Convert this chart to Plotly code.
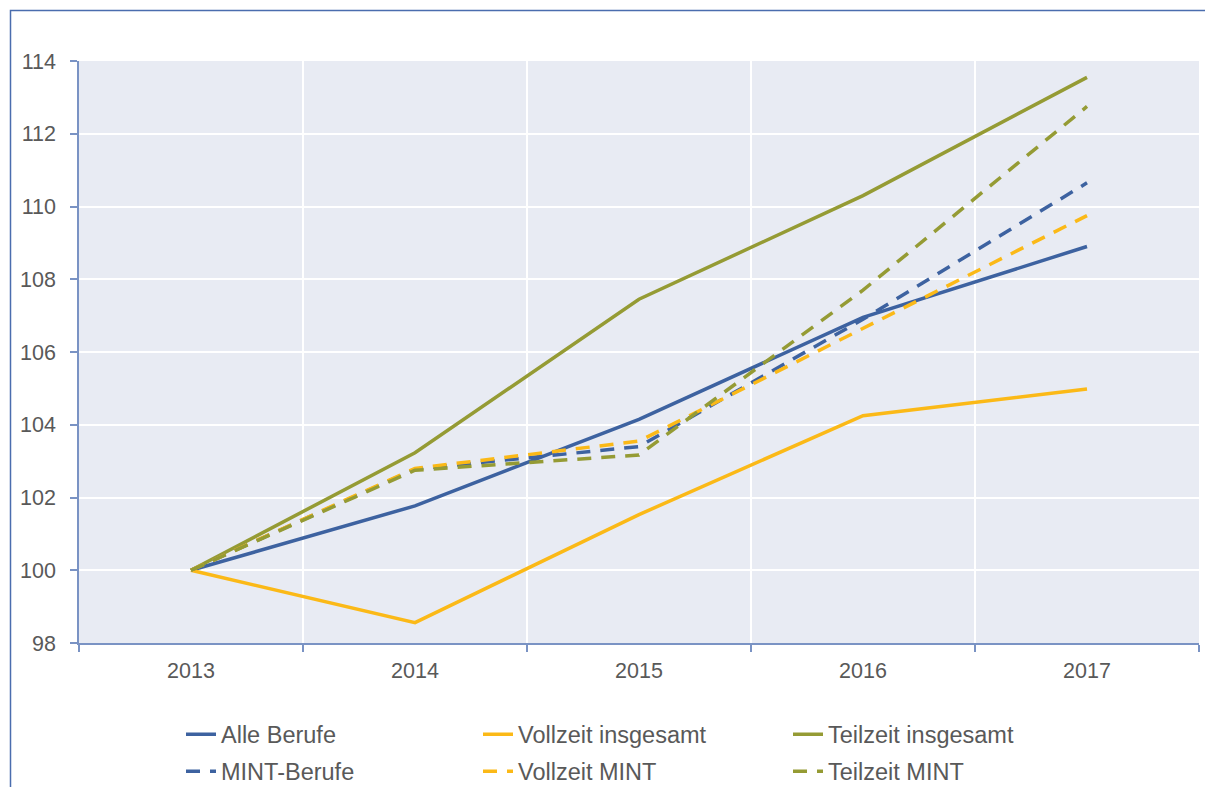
import plotly.graph_objects as go

years = ["2013", "2014", "2015", "2016", "2017"]
alle_berufe = [100, 101.77, 104.15, 106.95, 108.9]
vollzeit_insgesamt = [100, 98.56, 101.53, 104.25, 104.98]
teilzeit_insgesamt = [100, 103.23, 107.45, 110.3, 113.55]
mint_berufe = [100, 102.78, 103.4, 106.9, 110.65]
vollzeit_mint = [100, 102.8, 103.55, 106.66, 109.75]
teilzeit_mint = [100, 102.75, 103.17, 107.7, 112.75]

names = ["Alle Berufe", "Vollzeit insgesamt", "Teilzeit insgesamt",
         "MINT-Berufe", "Vollzeit MINT", "Teilzeit MINT"]
series = [alle_berufe, vollzeit_insgesamt, teilzeit_insgesamt,
          mint_berufe, vollzeit_mint, teilzeit_mint]

BLUE = "#3D62A0"
YELLOW = "#FBB917"
GREEN = "#959B34"
colors = [BLUE, YELLOW, GREEN, BLUE, YELLOW, GREEN]
dashes = ["solid", "solid", "solid", "14px,10px", "14px,10px", "14px,10px"]

# page margin is removed below; vertical positions given in reference pixels, scaled by K
FW, FH = 1205, 800
K = FH / 787
L, R = 79, 1199
T, B = round(60 * K), round(642 * K)
W, H = R - L, B - T
def px_x(p):
    return (p - L) / W
def px_y(p):
    return (B - p * K) / H

FONT = "Liberation Sans, Arial"
GREY = "#595959"

fig = go.Figure()
legend_cols = [181, 478, 788]
legend_rows = [734, 771]
layout_legends = {}
for i, (n, s, c, d) in enumerate(zip(names, series, colors, dashes)):
    key = "legend" if i == 0 else f"legend{i+1}"
    fig.add_trace(go.Scatter(x=years, y=s, name=n, mode="lines",
                             line=dict(color=c, width=3.5, dash=d),
                             legend=key))
    col, row = i % 3, i // 3
    layout_legends[key] = dict(
        x=px_x(legend_cols[col]), y=px_y(legend_rows[row]),
        xanchor="left", yanchor="middle",
        orientation="h", bgcolor="rgba(0,0,0,0)",
        font=dict(family=FONT, size=23.5, color=GREY),
        itemwidth=30,
    )

AXIS = "#7A93C4"
fig.update_layout(
    width=FW, height=FH,
    margin=dict(l=L, r=FW - R, t=T, b=FH - B),
    paper_bgcolor="white",
    plot_bgcolor="#E8EBF3",
    showlegend=True,
    **layout_legends,
    xaxis=dict(
        type="category", range=[-0.5, 4.5], tickson="boundaries",
        showgrid=True, gridcolor="white", gridwidth=2,
        showline=True, linecolor=AXIS, linewidth=1.5,
        ticks="outside", ticklen=7, tickcolor=AXIS, tickwidth=1.5,
        ticklabelstandoff=7,
        tickfont=dict(family=FONT, size=21.5, color=GREY),
        zeroline=False,
    ),
    yaxis=dict(
        range=[98, 114], dtick=2, tick0=98,
        showgrid=True, gridcolor="white", gridwidth=2,
        showline=True, linecolor=AXIS, linewidth=1.5,
        ticks="outside", ticklen=7, tickcolor=AXIS, tickwidth=1.5,
        ticklabelstandoff=10,
        tickfont=dict(family=FONT, size=21.5, color=GREY),
        zeroline=False,
    ),
    shapes=[dict(
        type="path", xref="paper", yref="paper",
        path=f"M {px_x(10.5)} {px_y(800)} L {px_x(10.5)} {px_y(9.5)} L {px_x(FW + 5)} {px_y(9.5)}",
        line=dict(color="#4A6DAE", width=1.5), layer="above",
    )],
)

fig.write_html(
    "out.html",
    config={"displayModeBar": False},
    post_script="document.body.style.margin='0';document.body.style.overflow='hidden';",
)
